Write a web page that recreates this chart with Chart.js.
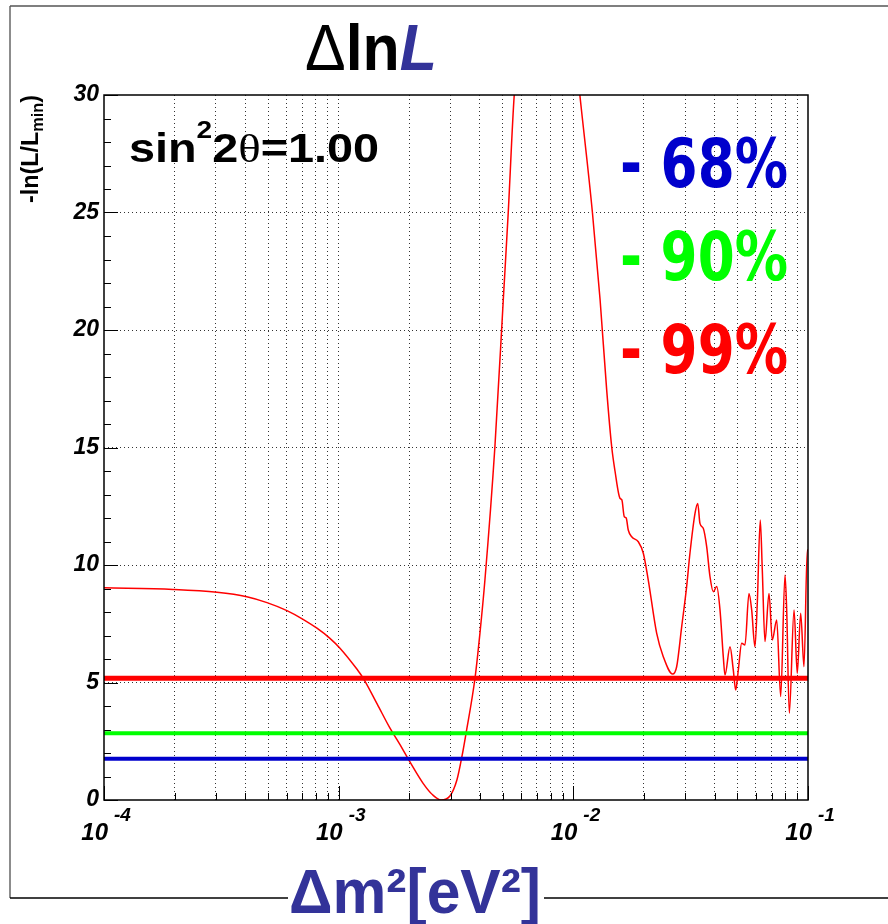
<!DOCTYPE html>
<html>
<head>
<meta charset="utf-8">
<title>Delta lnL scan</title>
<script src="https://cdn.jsdelivr.net/npm/chart.js@4.4.1/dist/chart.umd.min.js"></script>
<style>
    body { margin: 0; background: #ffffff; }
    canvas { display: block; }
</style>
</head>
<body>
<canvas id="myChart" width="888" height="924"></canvas>
<script>
// Likelihood scan in delta m^2 at sin^2 2theta = 1.00
const dm2 = [
    1.00e-4, 1.97e-4, 3.03e-4, 4.06e-4, 4.95e-4, 6.02e-4, 7.05e-4, 8.08e-4, 9.18e-4,
    1.013e-3, 1.20e-3, 1.27e-3, 1.46e-3, 1.65e-3, 1.82e-3, 2.01e-3, 2.29e-3, 2.52e-3,
    2.73e-3, 2.98e-3, 3.19e-3, 3.35e-3, 3.49e-3, 3.81e-3, 4.00e-3, 4.20e-3, 4.63e-3,
    5.03e-3, 5.28e-3, 5.60e-3, 6.53e-3, 7.95e-3, 9.69e-3, 1.066e-2, 1.206e-2, 1.30e-2,
    1.387e-2, 1.457e-2, 1.505e-2, 1.58e-2, 1.61e-2, 1.648e-2, 1.68e-2, 1.714e-2, 1.773e-2,
    1.892e-2, 1.987e-2, 2.086e-2, 2.266e-2, 2.417e-2, 2.65e-2, 2.756e-2, 2.895e-2, 3.04e-2,
    3.14e-2, 3.30e-2, 3.39e-2, 3.464e-2, 3.578e-2, 3.70e-2, 3.823e-2, 3.949e-2, 4.083e-2,
    4.217e-2, 4.355e-2, 4.429e-2, 4.652e-2, 4.805e-2, 4.919e-2, 5.047e-2, 5.217e-2, 5.389e-2,
    5.604e-2, 5.754e-2, 5.94e-2, 6.08e-2, 6.26e-2, 6.386e-2, 6.557e-2, 6.82e-2, 7.045e-2,
    7.355e-2, 7.65e-2, 7.98e-2, 8.113e-2, 8.325e-2, 8.72e-2, 9.00e-2, 9.307e-2, 9.614e-2,
    9.93e-2, 1.00e-1
];
const dLnL = [
    9.03, 8.96, 8.84, 8.65, 8.40, 8.06, 7.69, 7.31, 6.88,
    6.46, 5.55, 5.20, 4.08, 3.08, 2.38, 1.63, 0.71, 0.21,
    0.00, 0.17, 0.85, 1.84, 2.84, 5.18, 7.10, 9.36, 15.0,
    21.3, 25.0, 30.0, 36.0, 38.0, 34.0, 30.0, 25.0, 21.3,
    17.45, 15.03, 14.0, 12.84, 12.77, 12.06, 12.0, 11.49, 11.2,
    10.99, 10.5, 9.36, 7.09, 6.10, 5.36, 5.67, 7.37, 9.08,
    10.5, 12.2, 12.62, 11.77, 11.56, 10.78, 9.50, 8.86, 9.08,
    8.09, 6.10, 5.32, 6.52, 5.53, 4.68, 5.53, 6.67, 6.60,
    8.79, 8.09, 6.52, 8.37, 11.91, 9.79, 6.74, 8.79, 6.81,
    7.66, 4.40, 9.57, 8.09, 3.69, 8.09, 5.39, 7.95, 5.67,
    10.64, 10.64
];

// Confidence levels drawn as horizontal lines
const levelNames = ['68%', '90%', '99%'];
const levelValues = [1.76, 2.84, 5.18];

// Axis ranges and tick labels
const xMin = 1e-4;
const xMax = 1e-1;
const yMin = 0;
const yMax = 30;
const decadeExps = [-4, -3, -2, -1];

const levelColors = ['#0000cc', '#00ff00', '#ff0000'];
const levelWidths = [4, 4, 5];
const levelTextY = [187, 280, 373];

// 1..9 x 10^n ticks for the log axis
const xTickValues = [];
decadeExps.forEach((e, i) => {
    if (i === decadeExps.length - 1) {
        xTickValues.push(Math.pow(10, e));
        return;
    }
    for (let m = 1; m <= 9; m++) {
        xTickValues.push(Number((m * Math.pow(10, e)).toPrecision(3)));
    }
});
const isDecade = v => decadeExps.some(e => Math.abs(v - Math.pow(10, e)) < 1e-12);

const SANS = "'Liberation Sans', Arial, sans-serif";

// draw a row of text runs, squeezed/stretched to a given width
function drawRuns(ctx, runs, x, y, width) {
    let total = 0;
    runs.forEach(r => {
        ctx.font = r.font;
        r.w = ctx.measureText(r.text).width;
        total += r.w;
    });
    const sx = width ? width / total : 1;
    ctx.save();
    ctx.translate(x, y);
    ctx.scale(sx, 1);
    ctx.textBaseline = 'alphabetic';
    ctx.textAlign = 'left';
    let cx = 0;
    runs.forEach(r => {
        ctx.font = r.font;
        ctx.fillStyle = r.color || '#000000';
        ctx.fillText(r.text, cx, r.dy || 0);
        cx += r.w;
    });
    ctx.restore();
}

const decorations = {
    id: 'decorations',
    afterDatasetsDraw(chart) {
        const { ctx, chartArea: a, scales: { x, y } } = chart;
        ctx.save();
        ctx.strokeStyle = '#000000';
        ctx.lineWidth = 1;
        ctx.beginPath();
        // y ticks inside the frame
        for (let v = yMin; v <= yMax; v++) {
            const py = Math.round(y.getPixelForValue(v)) + 0.5;
            const len = v % 5 === 0 ? 14 : 7;
            ctx.moveTo(a.left, py);
            ctx.lineTo(a.left + len, py);
        }
        // x ticks inside the frame
        xTickValues.forEach(v => {
            const px = Math.round(x.getPixelForValue(v)) + 0.5;
            const len = isDecade(v) ? 14 : 7;
            ctx.moveTo(px, a.bottom);
            ctx.lineTo(px, a.bottom - len);
        });
        ctx.stroke();
        ctx.lineWidth = 1.5;
        ctx.strokeRect(a.left, a.top, a.right - a.left, a.bottom - a.top);
        ctx.restore();
    },
    afterDraw(chart) {
        const { ctx, scales: { x } } = chart;
        ctx.save();

        // outer pad frame
        ctx.lineWidth = 2;
        ctx.strokeStyle = '#8c8c8c';
        ctx.beginPath();
        ctx.moveTo(10, 6);
        ctx.lineTo(10, 898);
        ctx.stroke();
        ctx.strokeStyle = '#555555';
        ctx.lineWidth = 1.5;
        ctx.beginPath();
        ctx.moveTo(10, 6);
        ctx.lineTo(888, 6);
        ctx.stroke();
        ctx.strokeStyle = '#000000';
        ctx.beginPath();
        ctx.moveTo(10, 898);
        ctx.lineTo(888, 898);
        ctx.stroke();

        // x tick labels 10^n
        decadeExps.forEach(e => {
            const px = x.getPixelForValue(Math.pow(10, e));
            ctx.fillStyle = '#000000';
            ctx.font = `italic bold 24px ${SANS}`;
            ctx.textAlign = 'right';
            ctx.fillText('10', px + 4, 840);
            ctx.font = `italic bold 19px ${SANS}`;
            ctx.textAlign = 'left';
            ctx.fillText('-' + Math.abs(e), px + 10, 821);
        });

        // title
        drawRuns(ctx, [
            { text: '\u0394', font: `64px ${SANS}` },
            { text: 'ln', font: `bold 64px ${SANS}` },
            { text: 'L', font: `italic bold 64px ${SANS}`, color: '#333399' }
        ], 305, 70, 132);

        // y axis title
        ctx.save();
        ctx.translate(38, 203);
        ctx.rotate(-Math.PI / 2);
        drawRuns(ctx, [
            { text: '-ln(L/L', font: `bold 23px ${SANS}` },
            { text: 'min', font: `bold 16px ${SANS}`, dy: 5 },
            { text: ')', font: `bold 23px ${SANS}` }
        ], 0, 0, 108);
        ctx.restore();

        // mixing angle
        drawRuns(ctx, [
            { text: 'sin', font: `bold 40px ${SANS}` },
            { text: '2', font: `bold 24px ${SANS}`, dy: -24 },
            { text: '2', font: `bold 40px ${SANS}` },
            { text: '\u03b8', font: "40px 'Liberation Serif', serif" },
            { text: '=1.00', font: `bold 40px ${SANS}` }
        ], 129, 162, 250);

        // level legend
        levelNames.forEach((name, i) => {
            drawRuns(ctx, [
                { text: '- ' + name, font: "bold 68px 'DejaVu Sans', sans-serif", color: levelColors[i] }
            ], 620, levelTextY[i], 168);
        });

        // x axis title over the pad frame
        ctx.fillStyle = '#ffffff';
        ctx.fillRect(288, 862, 256, 62);
        drawRuns(ctx, [
            { text: '\u0394m\u00b2[eV\u00b2]', font: `bold 63px ${SANS}`, color: '#333399' }
        ], 289, 913, 252);

        ctx.restore();
    }
};

const levelSets = levelValues.map((v, i) => ({
    label: levelNames[i],
    data: [{ x: xMin, y: v }, { x: xMax, y: v }],
    borderColor: levelColors[i],
    borderWidth: levelWidths[i],
    pointRadius: 0,
    order: 0
}));

const data = {
    datasets: [
        ...levelSets,
        {
            label: 'scan',
            data: dm2.map((v, i) => ({ x: v, y: dLnL[i] })),
            borderColor: '#ff0000',
            borderWidth: 1.5,
            pointRadius: 0,
            cubicInterpolationMode: 'monotone',
            order: 1
        }
    ]
};

const gridColor = edges => ctx => (edges.includes(ctx.tick.value) ? 'rgba(0,0,0,0)' : '#333333');

const config = {
    type: 'line',
    data,
    options: {
        responsive: false,
        animation: false,
        layout: { padding: { left: 0, top: 95, right: 80, bottom: 0 } },
        plugins: {
            legend: { display: false },
            tooltip: { enabled: false }
        },
        scales: {
            x: {
                type: 'logarithmic',
                min: xMin,
                max: xMax,
                afterBuildTicks: scale => {
                    scale.ticks = xTickValues.map(v => ({ value: v }));
                },
                afterFit: scale => { scale.height = 124; },
                ticks: { display: false },
                grid: { color: gridColor([xMin, xMax]), lineWidth: 1, drawTicks: false },
                border: { display: false, dash: [1, 3] }
            },
            y: {
                min: yMin,
                max: yMax,
                afterFit: scale => { scale.width = 104; },
                ticks: {
                    stepSize: 5,
                    padding: 5,
                    color: '#000000',
                    font: { family: 'Liberation Sans', size: 23, weight: 'bold', style: 'italic' }
                },
                grid: { color: gridColor([yMin, yMax]), lineWidth: 1, drawTicks: false },
                border: { display: false, dash: [1, 3] }
            }
        }
    },
    plugins: [decorations]
};

window.myChart = new Chart(document.getElementById('myChart'), config);
</script>
</body>
</html>
